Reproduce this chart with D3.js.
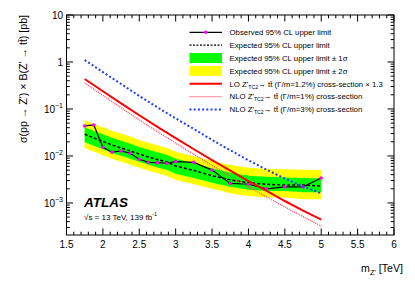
<!DOCTYPE html>
<html>
<head>
<meta charset="utf-8">
<script src="https://cdn.jsdelivr.net/npm/d3@7"></script>
<style>
  html, body { margin: 0; padding: 0; background: #fff; }
  svg { display: block; font-family: "Liberation Sans", Arial, Helvetica, sans-serif; }
  .tick-label { font-size: 10px; }
  .legend-text { font-size: 7.8px; }
</style>
</head>
<body>
<svg id="chart" width="415" height="281"></svg>
<script>
/* ── Data ─────────────────────────────────────────────────────────────────── */

const MASS = [1.75, 1.875, 2.0, 2.125, 2.25, 2.375, 2.5, 2.625, 2.75, 2.875,
  3.0, 3.25, 3.5, 3.75, 4.0, 4.25, 4.5, 4.75, 5.0];

const OBSERVED = [0.0435, 0.0456, 0.0153, 0.0120, 0.0128, 0.0114, 0.0085, 0.0073,
  0.0072, 0.0070, 0.0076, 0.0073, 0.0050, 0.0026, 0.0025, 0.0020, 0.0022, 0.0022, 0.0034];

const EXPECTED = [0.0290, 0.0241, 0.0204, 0.0171, 0.0148, 0.0128, 0.0110, 0.0095,
  0.0084, 0.0075, 0.0061, 0.0049, 0.0038, 0.0031, 0.0027, 0.0025, 0.0024, 0.0024, 0.0023];

const PLUS_2S = [0.058, 0.048, 0.041, 0.034, 0.030, 0.026, 0.022, 0.019, 0.017, 0.015,
  0.0123, 0.0099, 0.0078, 0.0064, 0.0056, 0.0053, 0.0052, 0.0051, 0.0050];
const PLUS_1S = [0.041, 0.034, 0.029, 0.0243, 0.021, 0.0182, 0.0156, 0.0135, 0.012, 0.0106,
  0.0087, 0.0070, 0.0055, 0.0044, 0.0038, 0.0036, 0.0035, 0.0034, 0.0033];
const MINUS_1S = [0.0197, 0.0164, 0.0139, 0.0116, 0.0101, 0.0087, 0.0075, 0.0065, 0.0057, 0.0051,
  0.0042, 0.0034, 0.0027, 0.0022, 0.0019, 0.0018, 0.0018, 0.0017, 0.0017];
const MINUS_2S = [0.0148, 0.0123, 0.0104, 0.0087, 0.0075, 0.0065, 0.0056, 0.0049, 0.0043, 0.0038,
  0.0031, 0.0025, 0.0020, 0.0016, 0.0014, 0.0013, 0.0013, 0.0012, 0.0012];

const THEORY_MASS = [1.75, 2.0, 2.25, 2.5, 2.75, 3.0, 3.25, 3.5, 3.75, 4.0, 4.25, 4.5, 4.75, 5.0];
const LO_XSEC = [0.435, 0.238, 0.132, 0.0734, 0.0416, 0.0239, 0.0139, 0.0082, 0.0049,
  0.0029, 0.0018, 0.0011, 0.00069, 0.00044];
const NLO_1PCT = [0.357, 0.194, 0.106, 0.0584, 0.0329, 0.0187, 0.0108, 0.0063, 0.0037,
  0.0022, 0.00134, 0.00082, 0.00051, 0.00032];
const NLO_3PCT = [1.10, 0.61, 0.34, 0.189, 0.108, 0.063, 0.0375, 0.0219, 0.0132,
  0.0081, 0.0051, 0.0033, 0.00226, 0.0016];

const X_TICKS = [1.5, 2, 2.5, 3, 3.5, 4, 4.5, 5, 5.5, 6];
const Y_DECADES = [-3, -2, -1, 0, 1];

/* ── Layout ───────────────────────────────────────────────────────────────── */

const FRAME = { left: 66.5, right: 394, top: 15, bottom: 235 };
const MAGENTA = "#ff00ff";

const svg = d3.select("#chart");
const x = d3.scaleLinear().domain([1.5, 6]).range([FRAME.left, FRAME.right]);
const y = d3.scaleLog().domain([2.08e-4, 10]).range([FRAME.bottom, FRAME.top]);

const lineOf = (xs) => d3.line().x((_, i) => x(xs[i])).y((d) => y(d));

/* ── Bands and curves ─────────────────────────────────────────────────────── */

function drawBand(lo, hi, color) {
  const area = d3.area()
    .x((_, i) => x(MASS[i]))
    .y0((_, i) => y(lo[i]))
    .y1((_, i) => y(hi[i]));
  svg.append("path").attr("d", area(MASS)).attr("fill", color);
}

drawBand(MINUS_2S, PLUS_2S, "#ffff00");
drawBand(MINUS_1S, PLUS_1S, "#00ff00");

svg.append("path")
  .attr("d", lineOf(MASS)(EXPECTED))
  .attr("fill", "none").attr("stroke", "#000")
  .attr("stroke-width", 1.5).attr("stroke-dasharray", "3,2");

svg.append("path")
  .attr("d", lineOf(MASS)(OBSERVED))
  .attr("fill", "none").attr("stroke", "#000").attr("stroke-width", 1.2);

svg.selectAll("circle.obs").data(OBSERVED).enter()
  .append("circle")
  .attr("class", "obs")
  .attr("cx", (_, i) => x(MASS[i]))
  .attr("cy", (d) => y(d))
  .attr("r", 1.8)
  .attr("fill", MAGENTA);

const THEORY = [
  { values: NLO_3PCT, color: "#1f3cff", width: 2, dash: "2,2.2" },
  { values: NLO_1PCT, color: "#ff4466", width: 1.3, dash: "1,1" },
  { values: LO_XSEC, color: "#ff0000", width: 2, dash: null },
];

THEORY.forEach((t) => {
  svg.append("path")
    .attr("d", lineOf(THEORY_MASS)(t.values))
    .attr("fill", "none")
    .attr("stroke", t.color)
    .attr("stroke-width", t.width)
    .attr("stroke-dasharray", t.dash);
});

/* ── Frame and ticks ──────────────────────────────────────────────────────── */

svg.append("rect")
  .attr("x", FRAME.left).attr("y", FRAME.top)
  .attr("width", FRAME.right - FRAME.left)
  .attr("height", FRAME.bottom - FRAME.top)
  .attr("fill", "none").attr("stroke", "#000").attr("stroke-width", 1);

const ticks = svg.append("g").attr("stroke", "#000").attr("stroke-width", 1);

// x ticks (bottom + top), minor every 0.1
d3.range(15, 61).forEach((k) => {
  const v = k / 10;
  const len = k % 5 === 0 ? 6.5 : 3.3;
  const px = x(v);
  ticks.append("line").attr("x1", px).attr("x2", px)
    .attr("y1", FRAME.bottom).attr("y2", FRAME.bottom - len);
  ticks.append("line").attr("x1", px).attr("x2", px)
    .attr("y1", FRAME.top).attr("y2", FRAME.top + len);
});

// y ticks (left + right), minor 2..9 per decade
const yDomain = y.domain();
d3.range(-4, 2).forEach((e) => {
  d3.range(1, 10).forEach((m) => {
    const v = m * Math.pow(10, e);
    if (v < yDomain[0] || v > yDomain[1]) return;
    const len = m === 1 ? 6.5 : 3.3;
    const py = y(v);
    ticks.append("line").attr("x1", FRAME.left).attr("x2", FRAME.left + len)
      .attr("y1", py).attr("y2", py);
    ticks.append("line").attr("x1", FRAME.right).attr("x2", FRAME.right - len)
      .attr("y1", py).attr("y2", py);
  });
});

// x tick labels
svg.selectAll("text.xlab").data(X_TICKS).enter()
  .append("text")
  .attr("class", "tick-label")
  .attr("x", (d) => x(d))
  .attr("y", 247.5)
  .attr("text-anchor", "middle")
  .text((d) => d);

// y tick labels
Y_DECADES.forEach((e) => {
  const t = svg.append("text")
    .attr("class", "tick-label")
    .attr("x", 63)
    .attr("y", y(Math.pow(10, e)) + 3.6)
    .attr("text-anchor", "end");
  if (e === 0) t.text("1");
  else if (e === 1) t.text("10");
  else {
    t.append("tspan").text("10");
    t.append("tspan").attr("dy", -4.5).attr("font-size", "7px").text("\u2212" + (-e));
  }
});

/* ── Axis titles ──────────────────────────────────────────────────────────── */

const yTitle = svg.append("text")
  .attr("transform", `translate(27,${FRAME.top}) rotate(-90)`)
  .attr("text-anchor", "end")
  .attr("font-size", "10.6px");
yTitle.append("tspan").text("\u03c3(pp \u2192 Z') \u00d7 B(Z' \u2192 tt\u0304) [pb]");

const xTitle = svg.append("text")
  .attr("x", 403).attr("y", 272)
  .attr("text-anchor", "end")
  .attr("font-size", "10.6px");
xTitle.append("tspan").text("m");
xTitle.append("tspan").attr("dy", 2.5).attr("font-size", "7.5px").text("Z'");
xTitle.append("tspan").attr("dy", -2.5).text(" [TeV]");

/* ── ATLAS label ──────────────────────────────────────────────────────────── */

svg.append("text")
  .attr("x", 84).attr("y", 206.5)
  .attr("font-size", "13.5px").attr("font-weight", "bold").attr("font-style", "italic")
  .text("ATLAS");

const energy = svg.append("text").attr("x", 84).attr("y", 219.5).attr("font-size", "8px");
energy.append("tspan").text("\u221as = 13 TeV, 139 fb");
energy.append("tspan").attr("dy", -3.5).attr("font-size", "5.5px").text("-1");

/* ── Legend ───────────────────────────────────────────────────────────────── */

const LEGEND_ROWS = [
  { kind: "obs", label: "Observed 95% CL upper limit" },
  { kind: "exp", label: "Expected 95% CL upper limit" },
  { kind: "box", color: "#00ff00", label: "Expected 95% CL upper limit \u00b1 1\u03c3" },
  { kind: "box", color: "#ffff00", label: "Expected 95% CL upper limit \u00b1 2\u03c3" },
  { kind: "line", theory: 2, pre: "LO Z'", post: "\u2192 tt\u0304 (\u0393/m=1.2%) cross-section \u00d7 1.3" },
  { kind: "line", theory: 1, pre: "NLO Z'", post: "\u2192 tt\u0304 (\u0393/m=1%) cross-section" },
  { kind: "line", theory: 0, pre: "NLO Z'", post: "\u2192 tt\u0304 (\u0393/m=3%) cross-section" },
];

const LEG_X0 = 189.5, LEG_X1 = 222, LEG_TEXT = 229.5, LEG_Y0 = 32.3, LEG_DY = 12.85;

LEGEND_ROWS.forEach((row, i) => {
  const cy = LEG_Y0 + i * LEG_DY;
  if (row.kind === "obs") {
    svg.append("line").attr("x1", LEG_X0).attr("x2", LEG_X1).attr("y1", cy).attr("y2", cy)
      .attr("stroke", "#000").attr("stroke-width", 1.2);
    svg.append("circle").attr("cx", (LEG_X0 + LEG_X1) / 2).attr("cy", cy).attr("r", 1.8)
      .attr("fill", MAGENTA);
  } else if (row.kind === "exp") {
    svg.append("line").attr("x1", LEG_X0).attr("x2", LEG_X1).attr("y1", cy).attr("y2", cy)
      .attr("stroke", "#000").attr("stroke-width", 1.2).attr("stroke-dasharray", "2,1.5");
  } else if (row.kind === "box") {
    svg.append("rect").attr("x", LEG_X0).attr("y", cy - 5).attr("width", LEG_X1 - LEG_X0)
      .attr("height", 10).attr("fill", row.color);
  } else {
    const t = THEORY[row.theory];
    svg.append("line").attr("x1", LEG_X0).attr("x2", LEG_X1).attr("y1", cy).attr("y2", cy)
      .attr("stroke", t.color).attr("stroke-width", t.width)
      .attr("stroke-dasharray", t.dash);
  }

  const txt = svg.append("text").attr("class", "legend-text")
    .attr("x", LEG_TEXT).attr("y", cy + 2.8);
  if (row.label) txt.text(row.label);
  else {
    txt.append("tspan").text(row.pre);
    txt.append("tspan").attr("dy", 2).attr("font-size", "5.2px").text("TC2");
    txt.append("tspan").attr("dy", -2).text(row.post);
  }
});
</script>
</body>
</html>
